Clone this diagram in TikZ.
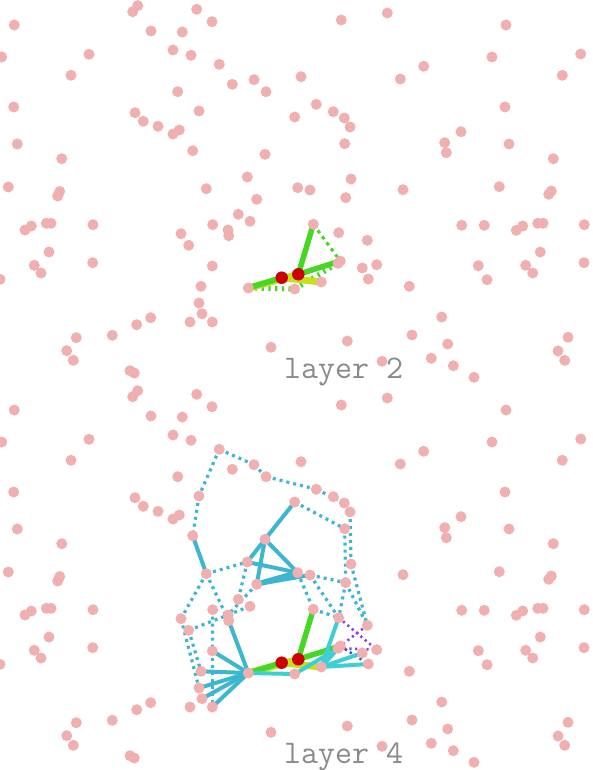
\documentclass[tikz,border=0pt]{standalone}
\usepackage{fontspec}
\definecolor{dotpink}{HTML}{F0B0B0}
\definecolor{redc}{HTML}{CC0000}
\definecolor{greenc}{HTML}{44D822}
\definecolor{yellowc}{HTML}{C4E21C}
\definecolor{cyanA}{HTML}{3DB6D2}
\definecolor{cyanB}{HTML}{3ECFD5}
\definecolor{purplec}{HTML}{8844DD}
\definecolor{bluec}{HTML}{3050D0}
\definecolor{labgray}{HTML}{8A8A8A}
\pgfdeclarelayer{bg}
\pgfsetlayers{bg,main}
\tikzset{
  pdot/.style={circle,fill=dotpink,draw=none,minimum size=11pt,inner sep=0pt},
  rdot/.style={circle,fill=redc,draw=none,minimum size=12.5pt,inner sep=0pt},
  lbl/.style={font=\ttfamily\fontsize{33}{33}\selectfont,text=labgray,inner sep=0pt},
  egreen/.style={draw=greenc,line width=5.5pt},
  eyellow/.style={draw=yellowc,line width=7pt},
  egdot/.style={draw=greenc,line width=3pt,dash pattern=on 3.5pt off 4pt},
  egtick/.style={draw=greenc,line width=5pt,dash pattern=on 2.2pt off 4.5pt},
  ecyan/.style={draw=cyanA,line width=4pt},
  ecyanthick/.style={draw=cyanA,line width=5.5pt},
  eturq/.style={draw=cyanB,line width=4pt},
  ecdot/.style={draw=cyanA,line width=3.2pt,dash pattern=on 3pt off 4pt},
  epdot/.style={draw=purplec,line width=2.6pt,dash pattern=on 2.2pt off 3.5pt},
  ebdot/.style={draw=bluec,line width=2.6pt,dash pattern=on 2.2pt off 3.5pt},
}
\newcommand\dotfield[1]{%
  \foreach \px/\py [count=\i] in {
    137.7/5.7, 132.7/11.7, 196.7/9.3, 212/21.7, 14.3/25, 151/31, 182.3/32, 1.7/57, 89/54.3, 173/50,
    191/55.3, 71/75.3, 219.3/64.3, 232.3/84.3, 254/79.7, 266/91.7, 177.7/91.7, 13.7/107, 135/112.7, 143.3/121.3,
    199/111, 158/126.3, 179.3/130, 173/134, 17.3/144, 192.7/150.7, 265/154.3, 61.7/158.7, 247.3/177, 8.3/187,
    59.7/191.5, 57.7/196, 206.3/188.7, 256.7/199.3, 301/76.7, 341.3/20, 387.3/13, 506/25, 580.7/54, 492/57,
    562.3/75.3, 423.7/66.3, 400.3/79, 316.3/104.3, 333.3/111.7, 344.3/118, 350/127, 294.7/117, 505/107, 461/131.7,
    444.7/142.7, 446.3/152.7, 509/144, 344.7/143.7, 553.3/158.7, 351/179, 297.7/187.7, 310/190, 403/189.7, 499.3/186.7,
    551.3/191, 548.7/194.3, 345.7/197.7, 313.3/224.3, 338.7/232.7, 367.3/240.3, 340.3/261, 338/263.3, 362.3/268, 376.7/264.7,
    368.3/279, 321.3/282, 294.7/289, 409.3/286.3, 461.7/225.3, 484.3/225.3, 516.3/230.3, 522.7/226, 537.7/223.3, 543/223.3,
    584.3/224.7, 540.3/252, 478.3/265.7, 487/279.7, 525.7/265.3, 532.7/273, 584/262.7, 441.7/317, 412/335, 447.7/344,
    347.3/341, 568/337.3, 558/351, 564.7/360.3, 431.3/358.3, 453.3/365.7, 382/361.3, 474/377.3, 238.3/214.3, 250/221.3,
    212.7/224.7, 228/230, 228.7/235.7, 181/233.7, 188.7/245.3, 212.3/266, 25/230, 31.3/226, 46.3/223.3, 51/223.3,
    93/224.7, 49/252, 34.3/265.3, 41/273, 92.7/262.7, 0/279.3, 201/286.3, 199/303, 202/313.7, 190/322,
    212.3/322, 150.7/317.7, 136.7/324.7, 112.3/335.3, 76.3/337.7, 66.7/350.7, 73.3/360.3, 130/370.7, 134.3/373, 271/347.3,
    248.3/288}
    {\node[pdot] (#1\i) at (\px,\py) {};}
  \node[rdot] (#1r1) at (281.7,277.7) {};
  \node[rdot] (#1r2) at (298.3,274.3) {};
}
\newcommand\ec[1]{(#1.center)}
\begin{document}
\begin{tikzpicture}[x=1pt,y=-1pt]
\useasboundingbox (0,0) rectangle (592,770);

% ---------------- layer 2 panel ----------------
\dotfield{t}
\node[lbl,anchor=base west] (lab2) at (284,378) {layer 2};
\begin{pgfonlayer}{bg}
  \fill[white] (0,0) rectangle (592,770);
  \draw[egdot] \ec{t64} -- \ec{t67};
  \draw[egtick] \ec{t131} -- \ec{t73};
  \draw[egtick] \ec{t73} -- \ec{t68};
  \draw[eyellow] \ec{t131} -- \ec{tr2};
  \draw[eyellow] \ec{tr1} -- \ec{t72};
  \draw[egreen] \ec{tr1} -- \ec{t131};
  \draw[egreen] \ec{tr2} -- \ec{t64};
  \draw[egreen] \ec{tr2} -- \ec{t67};
\end{pgfonlayer}

% ---------------- layer 4 panel ----------------
\begin{scope}[yshift=-385pt]
\dotfield{b}
\node[lbl,anchor=base west] (lab4) at (284,378) {layer 4};
\begin{pgfonlayer}{bg}
  % dotted cyan network
  \foreach \a/\c in {13/21, 13/15, 15/16, 16/44, 44/46, 21/26, 48/54, 47/56, 54/63,
      33/29, 58/63, 29/99, 33/104, 33/103, 34/102, 101/106, 106/121, 57/64, 58/65,
      64/65, 63/65, 63/66, 56/66, 100/105, 105/117, 104/118}
    {\draw[ecdot] \ec{b\a} -- \ec{b\c};}
  \draw[epdot] \ec{b65} -- \ec{b70};
  \draw[epdot] \ec{b66} -- \ec{b67};
  \draw[epdot] \ec{b68} -- \ec{b70};
  \draw[ebdot] \ec{b67} -- \ec{b71};
  % yellow and green
  \draw[eyellow] \ec{b131} -- \ec{br2};
  \draw[eyellow] \ec{br1} -- \ec{b72};
  \draw[egreen] \ec{br1} -- \ec{b131};
  \draw[egreen] \ec{br2} -- \ec{b64};
  \draw[egreen] \ec{br2} -- \ec{b67};
  % solid cyan
  \foreach \a/\c in {48/27, 27/29, 27/34, 27/57, 29/57, 26/33, 34/58,
      131/106, 131/103, 131/117, 131/118, 131/119, 131/121}
    {\draw[ecyan] \ec{b\a} -- \ec{b\c};}
  \draw[ecyanthick] \ec{b34} -- \ec{b57};
  \foreach \a/\c in {131/73, 73/68, 72/67, 72/69, 72/71, 65/72}
    {\draw[eturq] \ec{b\a} -- \ec{b\c};}
\end{pgfonlayer}
\end{scope}
\end{tikzpicture}
\end{document}
